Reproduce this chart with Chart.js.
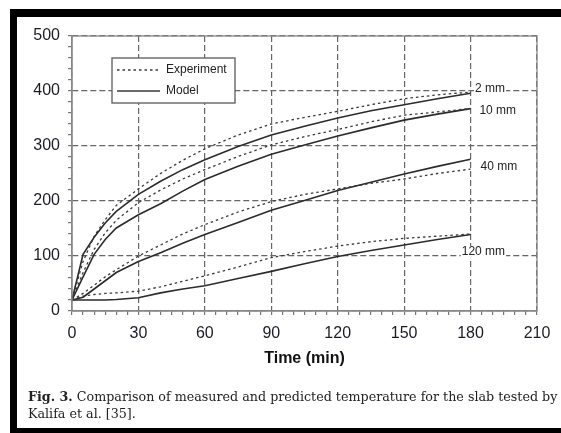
<!DOCTYPE html>
<html>
<head>
<meta charset="utf-8">
<script src="https://cdn.jsdelivr.net/npm/chart.js@4.4.1/dist/chart.umd.min.js"></script>
<style>
  html, body { margin: 0; padding: 0; background: #fff; overflow: hidden; width: 561px; height: 433px; }
  #frame {
    position: absolute; left: 10px; top: 9px; width: 544px; height: 411px;
    border-left: 7px solid #000; border-top: 8px solid #000; border-bottom: 5px solid #000;
  }
  #wrap { position: absolute; left: 0; top: 0; width: 561px; height: 433px; }
  #cap {
    position: absolute; left: 28px; top: 388px; white-space: nowrap;
    font-family: "DejaVu Serif", serif; font-size: 12.7px; line-height: 17px; color: #222;
  }
</style>
</head>
<body>
<div id="frame"></div>
<div id="wrap"><canvas id="chartTemp" width="561" height="433"></canvas></div>
<div id="cap"><b>Fig. 3.</b> Comparison of measured and predicted temperature for the slab tested by<br>Kalifa et al. [35].</div>
<script>
// dados (tempo em min, temperatura em °C)
const timeMin = [0, 5, 10, 15, 20, 30, 40, 50, 60, 75, 90, 105, 120, 135, 150, 165, 180]

const exp2mm = [20, 90, 136, 166, 192, 222, 250, 274, 295, 320, 340, 352, 363, 375, 386, 393, 398]
const model2mm = [20, 103, 134, 160, 181, 212, 236, 257, 275, 299, 320, 336, 351, 364, 375, 386, 396]
const exp10mm = [20, 70, 112, 142, 165, 197, 220, 240, 257, 281, 302, 317, 330, 344, 356, 362, 368]
const model10mm = [20, 62, 103, 130, 151, 175, 195, 218, 239, 263, 285, 302, 318, 333, 347, 358, 368]
const exp40mm = [20, 32, 47, 62, 75, 100, 120, 140, 157, 180, 199, 212, 222, 232, 240, 250, 258]
const model40mm = [20, 25, 40, 55, 70, 90, 106, 123, 139, 161, 183, 201, 219, 234, 249, 263, 276]
const exp120mm = [20, 27, 30, 32, 33, 36, 44, 54, 64, 80, 97, 108, 118, 126, 132, 136, 140]
const model120mm = [20, 20, 20, 20, 21, 24, 33, 40, 46, 59, 72, 86, 99, 110, 120, 130, 139]

// rótulos das curvas
const depthLabels = ["2 mm", "10 mm", "40 mm", "120 mm"]
const depthLabelTime = [182, 184, 184.5, 176]
const depthLabelTemp = [404, 365, 262, 107]

const xTicksMajor = 30
const yTicksMajor = 100

const toPoints = arr => arr.map((v, i) => ({ x: timeMin[i], y: v }))

const expStyle = { borderColor: "#3a3a3a", borderWidth: 1.3, borderDash: [2.5, 3], pointRadius: 0, tension: 0, fill: false }
const modelStyle = { borderColor: "#2b2b2b", borderWidth: 1.6, pointRadius: 0, tension: 0, fill: false }

const datasets = [
    { label: "Experiment 2 mm", data: toPoints(exp2mm), ...expStyle },
    { label: "Experiment 10 mm", data: toPoints(exp10mm), ...expStyle },
    { label: "Experiment 40 mm", data: toPoints(exp40mm), ...expStyle },
    { label: "Experiment 120 mm", data: toPoints(exp120mm), ...expStyle },
    { label: "Model 2 mm", data: toPoints(model2mm), ...modelStyle },
    { label: "Model 10 mm", data: toPoints(model10mm), ...modelStyle },
    { label: "Model 40 mm", data: toPoints(model40mm), ...modelStyle },
    { label: "Model 120 mm", data: toPoints(model120mm), ...modelStyle }
]

// moldura, rótulos e legenda desenhados por cima
const extras = {
    id: "extras",
    afterDraw(chart) {
        const { ctx, chartArea: a, scales: { x, y } } = chart
        ctx.save()
        ctx.strokeStyle = "#888"
        ctx.lineWidth = 1.3
        ctx.setLineDash([])
        ctx.strokeRect(a.left, a.top, a.right - a.left, a.bottom - a.top)

        ctx.font = "12px 'Liberation Sans', Arial, sans-serif"
        ctx.textBaseline = "middle"
        ctx.textAlign = "left"
        depthLabels.forEach((txt, i) => {
            const px = x.getPixelForValue(depthLabelTime[i])
            const py = y.getPixelForValue(depthLabelTemp[i])
            const w = ctx.measureText(txt).width
            ctx.fillStyle = "#fff"
            ctx.fillRect(px - 1, py - 6, w + 2, 12)
            ctx.fillStyle = "#222"
            ctx.fillText(txt, px, py)
        })

        // legenda
        const lx = 112, ly = 58, lw = 123, lh = 45
        ctx.fillStyle = "#fff"
        ctx.fillRect(lx, ly, lw, lh)
        ctx.strokeStyle = "#666"
        ctx.lineWidth = 1.4
        ctx.strokeRect(lx, ly, lw, lh)
        ctx.strokeStyle = "#3a3a3a"
        ctx.lineWidth = 1.3
        ctx.setLineDash([2.5, 3])
        ctx.beginPath(); ctx.moveTo(117, 70); ctx.lineTo(160, 70); ctx.stroke()
        ctx.setLineDash([])
        ctx.lineWidth = 1.6
        ctx.beginPath(); ctx.moveTo(117, 91); ctx.lineTo(160, 91); ctx.stroke()
        ctx.fillStyle = "#222"
        ctx.fillText("Experiment", 166, 70)
        ctx.fillText("Model", 166, 91)
        ctx.restore()
    }
}

const tickFont = { family: "'Liberation Sans', Arial, sans-serif", size: 16 }

new Chart(document.getElementById("chartTemp"), {
    type: "line",
    data: { datasets },
    options: {
        responsive: false,
        animation: false,
        layout: { padding: { top: 36, right: 24, left: 0, bottom: 62 } },
        plugins: { legend: { display: false }, tooltip: { enabled: false } },
        scales: {
            x: {
                type: "linear",
                min: 0,
                max: 210,
                afterFit: s => { s.height = 60 },
                ticks: {
                    stepSize: 5,
                    autoSkip: false,
                    maxRotation: 0,
                    padding: 9,
                    color: "#1c1c28",
                    font: tickFont,
                    callback: v => (v % xTicksMajor === 0 ? v : "")
                },
                grid: {
                    color: c => (c.tick && c.tick.value % xTicksMajor === 0 ? "#666" : "transparent"),
                    lineWidth: 1.2,
                    tickColor: "#777",
                    tickLength: 4
                },
                border: { display: true, color: "#888", width: 1.3, dash: [6, 3] },
                title: {
                    display: true,
                    text: "Time (min)",
                    color: "#111",
                    font: { family: "'Liberation Sans', Arial, sans-serif", size: 16, weight: "bold" },
                    padding: { top: 0, bottom: 3 }
                }
            },
            y: {
                min: 0,
                max: 500,
                afterFit: s => { s.width = 72 },
                ticks: {
                    stepSize: 20,
                    autoSkip: false,
                    padding: 8,
                    color: "#1c1c28",
                    font: tickFont,
                    callback: v => (v % yTicksMajor === 0 ? v : "")
                },
                grid: {
                    color: c => (c.tick && c.tick.value % yTicksMajor === 0 ? "#666" : "transparent"),
                    lineWidth: 1.2,
                    tickColor: "#777",
                    tickLength: 4
                },
                border: { display: true, color: "#888", width: 1.3, dash: [6, 3] }
            }
        }
    },
    plugins: [extras]
})
</script>
</body>
</html>
